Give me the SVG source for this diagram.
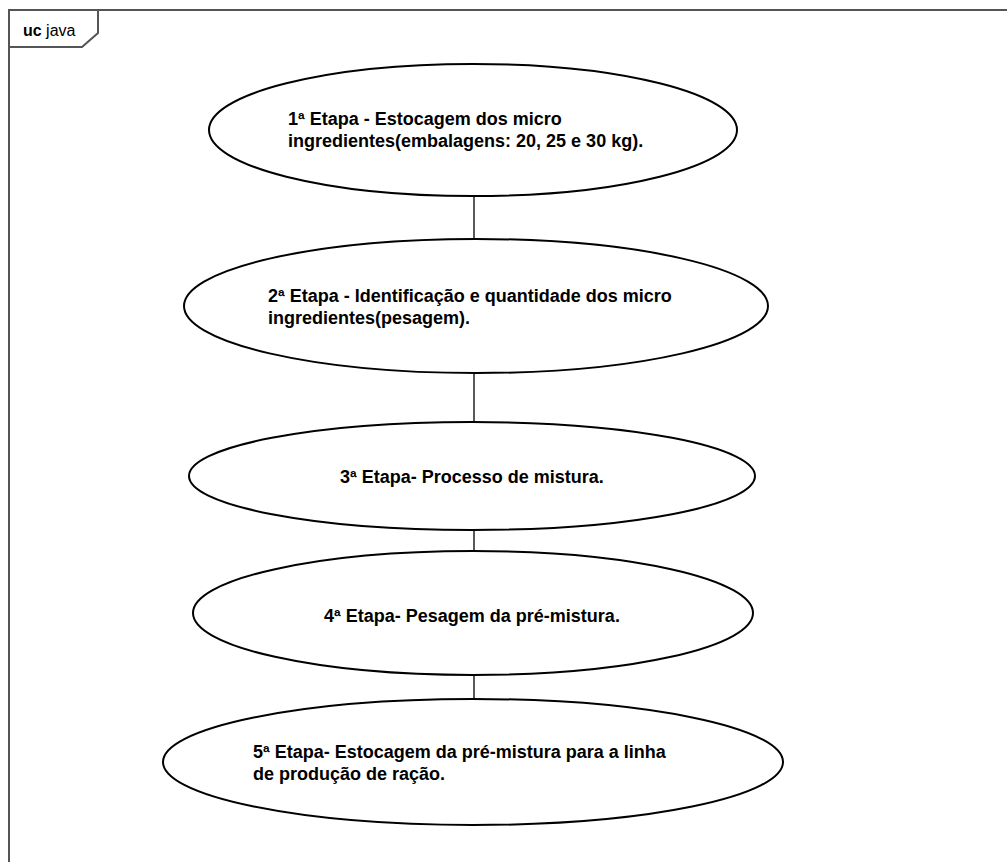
<svg xmlns="http://www.w3.org/2000/svg" width="1007" height="862" viewBox="0 0 1007 862">
<style>
.frame{fill:none;stroke:#555;stroke-width:2}
.uc{fill:#fff;stroke:#000;stroke-width:2}
.edge{stroke:#000;stroke-width:1.3;fill:none}
.lbl{font-family:"Liberation Sans",Arial,sans-serif;font-weight:bold;font-size:18px;fill:#000}
.tag{font-family:"Liberation Sans",Arial,sans-serif;font-size:16px;fill:#000}
</style>
<rect width="1007" height="862" fill="#fff"/>
<g id="frame">
<path class="frame" d="M1007,10 H9 V862"/>
<path class="frame" d="M9,47 H82 L98,33 V10"/>
<text class="tag" x="23" y="36"><tspan font-weight="bold">uc</tspan> java</text>
</g>
<g id="connectors">
<line class="edge" x1="474" y1="196" x2="474" y2="239"/>
<line class="edge" x1="474" y1="373" x2="474" y2="422"/>
<line class="edge" x1="474" y1="530" x2="474" y2="552"/>
<line class="edge" x1="474" y1="675" x2="474" y2="699"/>
</g>
<g id="node1">
<ellipse class="uc" cx="473" cy="130" rx="264" ry="66"/>
<text class="lbl" x="288" y="125">1ª Etapa - Estocagem dos micro</text>
<text class="lbl" x="288" y="147">ingredientes(embalagens: 20, 25 e 30 kg).</text>
</g>
<g id="node2">
<ellipse class="uc" cx="476" cy="306" rx="292" ry="67"/>
<text class="lbl" x="268" y="302">2ª Etapa - Identificação e quantidade dos micro</text>
<text class="lbl" x="268" y="324">ingredientes(pesagem).</text>
</g>
<g id="node3">
<ellipse class="uc" cx="472" cy="476" rx="283" ry="54"/>
<text class="lbl" x="472" y="483" text-anchor="middle">3ª Etapa- Processo de mistura.</text>
</g>
<g id="node4">
<ellipse class="uc" cx="473" cy="613" rx="280" ry="62"/>
<text class="lbl" x="472" y="622" text-anchor="middle">4ª Etapa- Pesagem da pré-mistura.</text>
</g>
<g id="node5">
<ellipse class="uc" cx="473" cy="762" rx="310" ry="63"/>
<text class="lbl" x="253" y="758">5ª Etapa- Estocagem da pré-mistura para a linha</text>
<text class="lbl" x="253" y="780">de produção de ração.</text>
</g>
</svg>
